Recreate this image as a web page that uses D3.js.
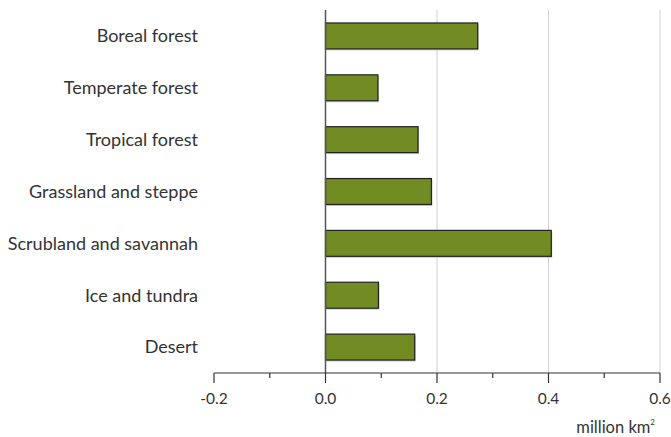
<!DOCTYPE html>
<html><head><meta charset="utf-8">
<script src="https://cdn.jsdelivr.net/npm/d3@7"></script>
<style>body{margin:0;background:#fff}</style>
</head><body>
<svg id="c" width="671" height="437"></svg>
<script>
const categories = ["Boreal forest","Temperate forest","Tropical forest","Grassland and steppe","Scrubland and savannah","Ice and tundra","Desert"];
const values = [0.273, 0.094, 0.166, 0.19, 0.405, 0.095, 0.16];
const majorTicks = [-0.2, 0.0, 0.2, 0.4, 0.6];
const minorTicks = [-0.1, 0.1, 0.3, 0.5];
const unitLabel = "million km";

const svg = d3.select("#c");
const font = "Lato, 'Open Sans', sans-serif";
const x = d3.scaleLinear().domain([-0.2, 0.6]).range([214, 660]);
const y = d3.scaleBand().domain(categories).range([10, 373]).paddingInner(0.5).paddingOuter(0.25);

// gridlines
svg.append("g").selectAll("line").data([0.2,0.4,0.6]).join("line")
  .attr("x1", d=>x(d)).attr("x2", d=>x(d)).attr("y1", 10).attr("y2", 373)
  .attr("stroke", "#d0d0d0").attr("stroke-width", 1);

// bars shadow
svg.append("g").selectAll("rect").data(values).join("rect")
  .attr("x", x(0)+1).attr("y", (d,i)=>y(categories[i])+1.5)
  .attr("width", d=>x(d)-x(0)).attr("height", y.bandwidth())
  .attr("fill", "#c8c8c8");
// bars
svg.append("g").selectAll("rect").data(values).join("rect")
  .attr("x", x(0)).attr("y", (d,i)=>y(categories[i]))
  .attr("width", d=>x(d)-x(0)).attr("height", y.bandwidth())
  .attr("fill", "#728b22").attr("stroke", "#222").attr("stroke-width", 1.2);

// zero line
svg.append("line").attr("x1", x(0)).attr("x2", x(0)).attr("y1", 10).attr("y2", 373)
  .attr("stroke", "#555").attr("stroke-width", 1.5);

// x axis
const ax = svg.append("g").attr("transform", "translate(0,373)");
ax.append("line").attr("x1", x(-0.2)).attr("x2", x(0.6)).attr("stroke", "#333").attr("stroke-width", 1.2);
ax.selectAll(".maj").data(majorTicks).join("line").attr("class","maj")
  .attr("x1", d=>x(d)).attr("x2", d=>x(d)).attr("y1", 0).attr("y2", 10)
  .attr("stroke", "#333").attr("stroke-width", 1.2);
ax.selectAll(".min").data(minorTicks).join("line").attr("class","min")
  .attr("x1", d=>x(d)).attr("x2", d=>x(d)).attr("y1", 0).attr("y2", 5)
  .attr("stroke", "#333").attr("stroke-width", 1.2);
ax.selectAll("text").data(majorTicks).join("text")
  .attr("x", d=>x(d)).attr("y", 31).attr("text-anchor", "middle")
  .attr("font-family", font).attr("font-size", 15.5).attr("fill", "#333")
  .text(d=>d3.format(".1f")(d).replace("−","-"));

// category labels
svg.append("g").selectAll("text").data(categories).join("text")
  .attr("x", 198).attr("y", d=>y(d)+y.bandwidth()/2).attr("dy", "0.35em")
  .attr("text-anchor", "end").attr("font-family", font).attr("font-size", 18).attr("fill", "#333")
  .text(d=>d);

// unit
const u = svg.append("text").attr("x", 655).attr("y", 433).attr("text-anchor", "end")
  .attr("font-family", font).attr("font-size", 16.5).attr("fill", "#333");
u.append("tspan").text(unitLabel);
u.append("tspan").attr("font-size", 8).attr("dy", -8).text("2");
</script>
</body></html>
